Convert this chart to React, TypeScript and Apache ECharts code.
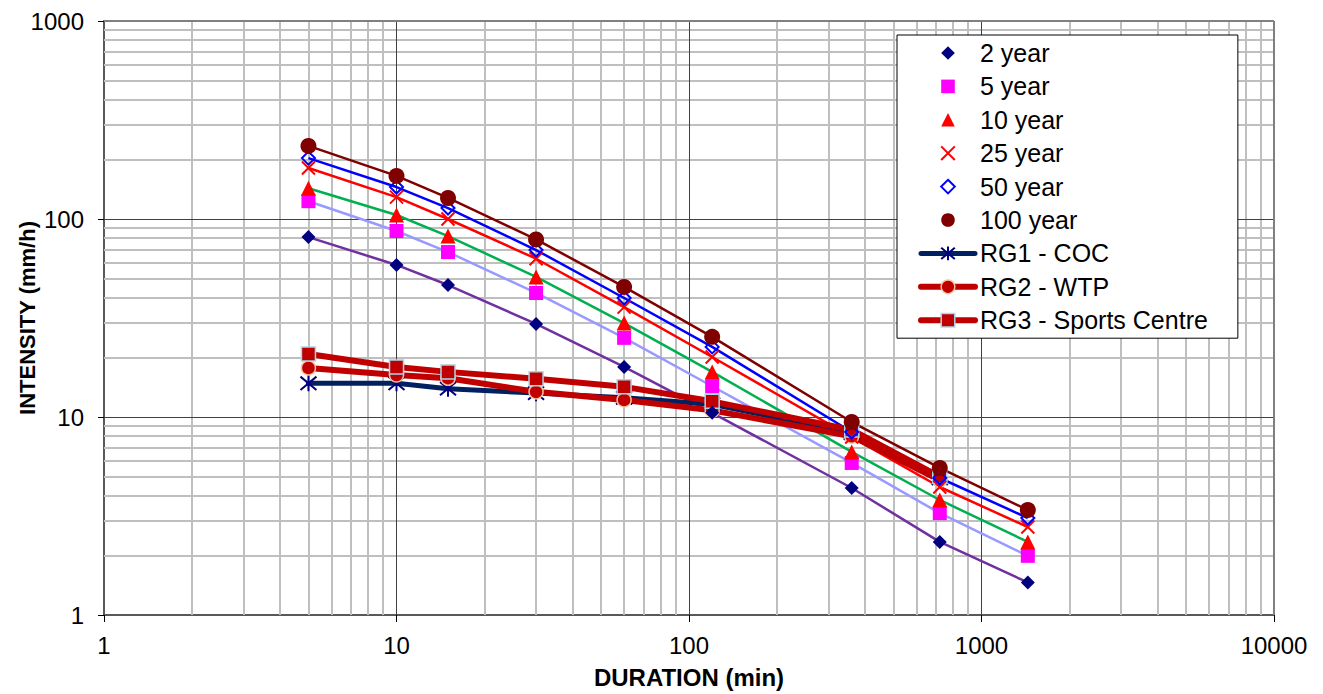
import React, { useEffect, useRef } from "react";
import * as echarts from "echarts";

// ---- data ----
const durations = [5, 10, 15, 30, 60, 120, 360, 720, 1440];
const rgDurations = [5, 10, 15, 30, 60, 120, 360, 720];

const y2 = [81, 58.6, 46.4, 29.5, 17.9, 10.5, 4.38, 2.34, 1.46];
const y5 = [123, 87, 68.1, 42.3, 25.1, 14.3, 5.86, 3.27, 1.99];
const y10 = [143, 104.8, 82, 51, 29.8, 16.9, 6.66, 3.81, 2.34];
const y25 = [181, 129, 100, 63, 35.9, 20.1, 7.92, 4.43, 2.78];
const y50 = [203, 145, 113.6, 69.7, 39.9, 22.6, 8.4, 4.92, 3.09];
const y100 = [234, 165, 127.7, 78.9, 45.4, 25.4, 9.43, 5.53, 3.39];

const rg1 = [14.8, 14.8, 13.9, 13.2, 12.5, 11.6, 8.3, 4.9];
const rg2 = [17.7, 16.3, 15.7, 13.4, 12.2, 10.8, 8.0, 4.8];
const rg3 = [20.8, 17.9, 16.9, 15.6, 14.2, 12.0, 8.6, 5.0];

// grid lines
const xMinor = [2, 3, 4, 5, 6, 7, 8, 9, 20, 30, 40, 50, 60, 70, 80, 90, 200, 300, 400, 500, 600, 700, 800, 900, 2000, 3000, 4000, 5000, 6000, 7000, 8000, 9000];
const yMinor = [2, 3, 4, 5, 6, 7, 8, 9, 20, 30, 40, 50, 60, 70, 80, 90, 200, 300, 400, 500, 600, 700, 800, 900];
const xMajor = [10, 100, 1000];
const yMajor = [10, 100];
const xBorder = [10000];
const yBorder = [1000];

const FONT = "'Liberation Sans', Arial, sans-serif";

const X_PATH = "path://M0,0 L10,10 M10,0 L0,10";
const STAR_PATH = "path://M0,0 L10,10 M10,0 L0,10 M5,-1 L5,11";
const DIAMOND_PATH = "path://M5,0 L10,5 L5,10 L0,5 Z";

function pairs(xs: number[], ys: number[]) {
  return xs.map((x, i) => [x, ys[i]]);
}

export default function App() {
  const ref = useRef<HTMLDivElement>(null);
  useEffect(() => {
    if (!ref.current) return;
    const chart = echarts.init(ref.current, null, { renderer: "svg" });

    const markerSeries = (
      name: string,
      ys: number[],
      symbol: string,
      size: number,
      itemStyle: any
    ) => ({
      name,
      type: "line",
      data: pairs(durations, ys),
      symbol,
      symbolSize: size,
      showSymbol: true,
      lineStyle: { width: 0, opacity: 0 },
      itemStyle,
      z: 4,
    });

    const connectSeries = (name: string, ys: number[], color: string) => ({
      name,
      type: "line",
      data: pairs(durations, ys),
      symbol: "none",
      lineStyle: { width: 2.5, color },
      z: 2,
    });

    const rgSeries = (
      name: string,
      ys: number[],
      symbol: string,
      size: number,
      lineColor: string,
      lineWidth: number,
      itemStyle: any
    ) => ({
      name,
      type: "line",
      data: pairs(rgDurations, ys),
      symbol,
      symbolSize: size,
      showSymbol: true,
      lineStyle: { width: lineWidth, color: lineColor, cap: "round", join: "round" },
      itemStyle,
      z: 3,
    });

    const gridLines = (xs: number[], ys: number[], color: string, width: number, z: number) => ({
      silent: true,
      symbol: ["none", "none"],
      label: { show: false },
      lineStyle: { type: "solid", color, width },
      emphasis: { disabled: true },
      animation: false,
      z,
      data: [...xs.map((v) => ({ xAxis: v })), ...ys.map((v) => ({ yAxis: v }))],
    });

    const option: any = {
      animation: false,
      grid: { left: 104, right: 49, top: 21, bottom: 79, containLabel: false, outerBoundsMode: "none" },
      xAxis: {
        type: "log",
        logBase: 10,
        min: 1,
        max: 10000,
        name: "DURATION (min)",
        nameLocation: "middle",
        nameGap: 50,
        nameTextStyle: { fontFamily: FONT, fontSize: 24, fontWeight: "bold", color: "#000" },
        axisLine: { show: true, lineStyle: { color: "#595959", width: 2 } },
        axisTick: { show: true, inside: false, length: 7, lineStyle: { color: "#000", width: 1 } },
        axisLabel: {
          margin: 18,
          fontFamily: FONT,
          fontSize: 24,
          color: "#000",
          formatter: (v: number) => String(Math.round(v)),
        },
        splitLine: { show: false },
        minorTick: { show: false },
      },
      yAxis: {
        type: "log",
        logBase: 10,
        min: 1,
        max: 1000,
        name: "INTENSITY (mm/h)",
        nameLocation: "middle",
        nameGap: 66,
        nameMoveOverlap: false,
        nameTextStyle: { fontFamily: FONT, fontSize: 22, fontWeight: "bold", color: "#000" },
        axisLine: { show: true, lineStyle: { color: "#595959", width: 2 } },
        axisTick: { show: true, inside: false, length: 6, lineStyle: { color: "#000", width: 1 } },
        axisLabel: {
          margin: 20,
          fontFamily: FONT,
          fontSize: 24,
          color: "#000",
          formatter: (v: number) => String(Math.round(v)),
        },
        splitLine: { show: false },
        minorTick: { show: false },
      },
      legend: {
        orient: "vertical",
        left: 897,
        top: 35,
        padding: [5, 30, 5, 21],
        itemGap: 7.4,
        itemWidth: 54,
        itemHeight: 17,
        backgroundColor: "#fff",
        borderColor: "#000",
        borderWidth: 1,
        borderRadius: 0,
        selectedMode: false,
        textStyle: { fontFamily: FONT, fontSize: 25, color: "#000", lineHeight: 26 },
        data: [
          { name: "2 year" },
          { name: "5 year" },
          { name: "10 year" },
          { name: "25 year", itemStyle: { color: "#FF0000", borderColor: "#FF0000", borderWidth: 2 } },
          { name: "50 year", itemStyle: { color: "rgba(0,0,0,0)", borderColor: "#0000FF", borderWidth: 2 } },
          { name: "100 year" },
          { name: "RG1 - COC", lineStyle: { width: 5, color: "#002060", cap: "round" }, itemStyle: { color: "#000080", borderColor: "#000080", borderWidth: 2 } },
          { name: "RG2 - WTP", lineStyle: { width: 6, color: "#C00000", cap: "round" }, itemStyle: { color: "#C00000", borderColor: "#F8C4A0", borderWidth: 1.5 } },
          { name: "RG3 - Sports Centre", lineStyle: { width: 6, color: "#C00000", cap: "round" }, itemStyle: { color: "#C00000", borderColor: "#A8D8EA", borderWidth: 1.5 } },
        ],
      },
      series: [
        {
          name: "__minor",
          type: "line",
          data: [],
          markLine: gridLines(xMinor, yMinor, "#BFBFBF", 2, 1),
        },
        {
          name: "__major",
          type: "line",
          data: [],
          markLine: gridLines(xMajor, yMajor, "#404040", 1, 1.5),
        },
        {
          name: "__border",
          type: "line",
          data: [],
          markLine: gridLines(xBorder, yBorder, "#808080", 2, 1.5),
        },
        connectSeries("l2", y2, "#7030A0"),
        connectSeries("l5", y5, "#9999FF"),
        connectSeries("l10", y10, "#00B050"),
        connectSeries("l25", y25, "#FF0000"),
        connectSeries("l50", y50, "#0000FF"),
        connectSeries("l100", y100, "#800000"),
        rgSeries("RG1 - COC", rg1, STAR_PATH, 16, "#002060", 5, { color: "#000080", borderColor: "#000080", borderWidth: 2 }),
        rgSeries("RG2 - WTP", rg2, "circle", 14, "#C00000", 6, { color: "#C00000", borderColor: "#F8C4A0", borderWidth: 1.5 }),
        rgSeries("RG3 - Sports Centre", rg3, "rect", 14, "#C00000", 6, { color: "#C00000", borderColor: "#A8D8EA", borderWidth: 1.5 }),
        markerSeries("2 year", y2, "diamond", 14, { color: "#000080" }),
        markerSeries("5 year", y5, "rect", 14, { color: "#FF00FF" }),
        markerSeries("10 year", y10, "triangle", 15, { color: "#FF0000" }),
        markerSeries("25 year", y25, X_PATH, 13, { color: "#FF0000", borderColor: "#FF0000", borderWidth: 2 }),
        markerSeries("50 year", y50, DIAMOND_PATH, 13, { color: "rgba(0,0,0,0)", borderColor: "#0000FF", borderWidth: 2 }),
        markerSeries("100 year", y100, "circle", 16, { color: "#800000" }),
      ],
    };

    chart.setOption(option);
    return () => chart.dispose();
  }, []);

  return (
    <div
      ref={ref}
      style={{ position: "absolute", left: 0, top: 0, width: 1323, height: 694, background: "#fff" }}
    />
  );
}
